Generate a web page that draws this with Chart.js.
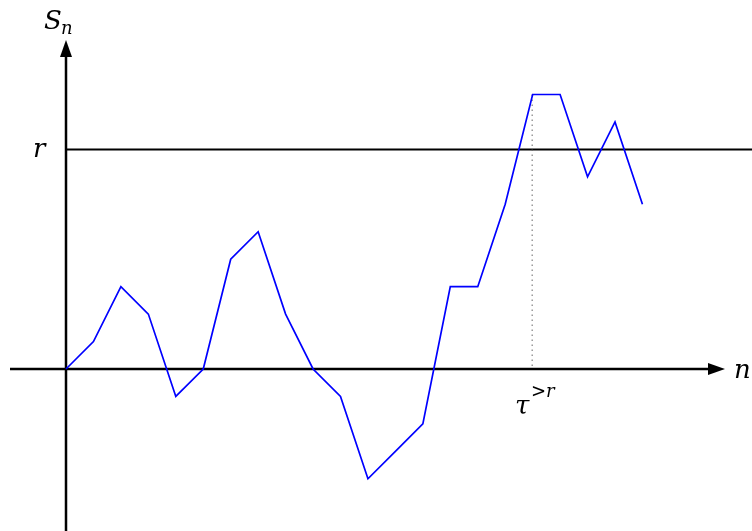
<!DOCTYPE html>
<html>
<head>
<meta charset="utf-8">
<script src="https://cdn.jsdelivr.net/npm/chart.js@4/dist/chart.umd.min.js"></script>
<style>
html,body{margin:0;padding:0;background:#fff;}
#wrap{width:752px;height:531px;position:relative;}
</style>
</head>
<body>
<div id="wrap"><canvas id="c" width="752" height="531"></canvas></div>
<script>
// Data
const steps = [0,1,2,3,4,5,6,7,8,9,10,11,12,13,14,15,16,17,18,19,20,21];
const walk  = [0,1,3,2,-1,0,4,5,2,0,-1,-4,-3,-2,3,3,6,10,10,7,9,6];
const level = 8;        // r
const hitTime = 17;     // tau^{>r}
const labels = {y:'S', ySub:'n', x:'n', level:'r', tau:'τ', tauSup:'>r'};

const unit = 27.45;
const originX = 66, originY = 369;
const SERIF = '"DejaVu Serif", serif';

const axesPlugin = {
  id:'axes',
  beforeDatasetsDraw(chart){
    const {ctx, scales:{x,y}} = chart;
    const X = v=>x.getPixelForValue(v), Y = v=>y.getPixelForValue(v);
    ctx.save();
    ctx.strokeStyle='#000'; ctx.fillStyle='#000';
    // x axis
    ctx.lineWidth=2.5;
    ctx.beginPath(); ctx.moveTo(10, Y(0)); ctx.lineTo(712, Y(0)); ctx.stroke();
    ctx.beginPath(); ctx.moveTo(725, Y(0)); ctx.lineTo(708, Y(0)-6); ctx.lineTo(708, Y(0)+6); ctx.closePath(); ctx.fill();
    // y axis
    ctx.beginPath(); ctx.moveTo(X(0), 531); ctx.lineTo(X(0), 56); ctx.stroke();
    ctx.beginPath(); ctx.moveTo(X(0), 40); ctx.lineTo(X(0)-6, 57); ctx.lineTo(X(0)+6, 57); ctx.closePath(); ctx.fill();
    // level r
    ctx.lineWidth=2;
    ctx.beginPath(); ctx.moveTo(X(0), Y(level)); ctx.lineTo(752, Y(level)); ctx.stroke();
    // dotted vertical
    ctx.lineWidth=1; ctx.strokeStyle='#666'; ctx.setLineDash([1.5,3.5]);
    ctx.beginPath(); ctx.moveTo(X(hitTime)-0.5, Y(10)); ctx.lineTo(X(hitTime)-0.5, Y(0)); ctx.stroke();
    ctx.setLineDash([]);
    // labels
    ctx.fillStyle='#000';
    ctx.textBaseline='alphabetic';
    ctx.textAlign='left';
    ctx.font='italic 26px ' + SERIF;
    ctx.fillText(labels.y, 44, 29);
    ctx.font='italic 18px ' + SERIF;
    ctx.fillText(labels.ySub, 61, 34);
    ctx.font='italic 26px ' + SERIF;
    ctx.fillText(labels.level, 33, 157);
    ctx.fillText(labels.x, 734, 378);
    ctx.fillText(labels.tau, 515, 414);
    ctx.font='italic 18px ' + SERIF;
    ctx.fillText(labels.tauSup, 531, 397);
    ctx.restore();
  }
};

function draw(){
  new Chart(document.getElementById('c'), {
    type:'line',
    data:{
      labels: steps,
      datasets:[{
        data: steps.map((n,i)=>({x:n, y:walk[i]})),
        borderColor:'#0000ff',
        borderWidth:1.7,
        pointRadius:0,
        tension:0,
        fill:false
      }]
    },
    options:{
      responsive:false,
      animation:false,
      layout:{padding:0},
      plugins:{legend:{display:false}, tooltip:{enabled:false}},
      scales:{
        x:{type:'linear', display:false, min:-originX/unit, max:(752-originX)/unit},
        y:{type:'linear', display:false, min:-(531-originY)/unit, max:originY/unit}
      }
    },
    plugins:[axesPlugin]
  });
}
draw();
</script>
</body>
</html>
